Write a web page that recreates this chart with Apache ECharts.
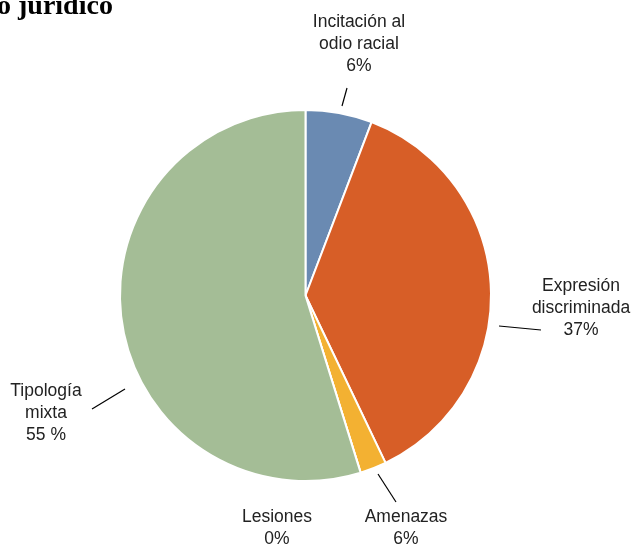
<!DOCTYPE html>
<html><head><meta charset="utf-8">
<script src="https://cdn.jsdelivr.net/npm/echarts@6/dist/echarts.min.js"></script>
<style>html,body{margin:0;padding:0;background:#fff}#c{width:636px;height:551px}</style>
</head><body><div id="c"></div>
<script>
// Data
var categories = ['Incitación al odio racial', 'Expresión discriminada', 'Amenazas', 'Lesiones', 'Tipología mixta'];
var values = [5.8, 37.1, 2.3, 0, 54.8];
var labelTexts = ['Incitación al\nodio racial\n6%', 'Expresión\ndiscriminada\n37%', 'Amenazas\n6%', 'Lesiones\n0%', 'Tipología\nmixta\n55 %'];
var colors = ['#6A8AB2', '#D75E27', '#F3B132', '#B7B7B7', '#A4BD96'];

// Label placement (styling only)
var labelPos = [[359, 44], [581, 308], [406, 528], [277, 528], [46, 413]];
var linePts = [[[342, 106], [347, 88]], [[499, 326], [541, 330]], [[378, 474], [396, 502]], null, [[125, 389], [92, 409]]];

var chart = echarts.init(document.getElementById('c'));
chart.setOption({
  animation: false,
  title: {
    text: 'o jurídico', left: -8, top: -12,
    textStyle: {fontFamily: 'Liberation Serif', fontWeight: 'bold', fontSize: 28, color: '#000'}
  },
  series: [{
    type: 'pie',
    center: [305.5, 295.5],
    radius: 185.5,
    startAngle: 90,
    clockwise: true,
    avoidLabelOverlap: false,
    itemStyle: {borderColor: '#fff', borderWidth: 2},
    label: {
      show: true, position: 'outside',
      fontFamily: 'Liberation Sans', fontSize: 17.5, lineHeight: 22, color: '#222', align: 'center',
      formatter: function (p) { return labelTexts[p.dataIndex]; }
    },
    labelLine: {show: true, lineStyle: {color: '#000', width: 1.2}},
    labelLayout: function (p) {
      var i = p.dataIndex;
      var r = {x: labelPos[i][0], y: labelPos[i][1], align: 'center', verticalAlign: 'middle'};
      if (linePts[i]) r.labelLinePoints = [linePts[i][0], linePts[i][0], linePts[i][1]];
      return r;
    },
    emphasis: {disabled: true},
    data: categories.map(function (c, i) {
      var d = {name: c, value: values[i], itemStyle: {color: colors[i]}};
      if (!linePts[i]) d.labelLine = {show: false};
      return d;
    })
  }]
});
</script></body></html>
